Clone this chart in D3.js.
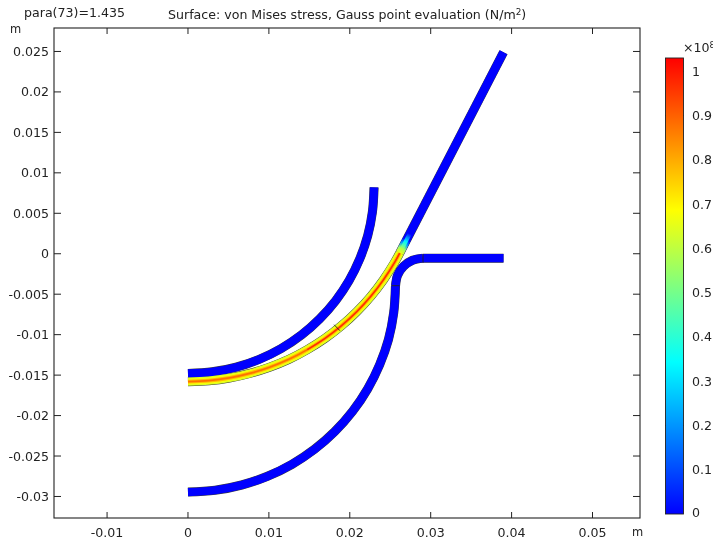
<!DOCTYPE html>
<html><head><meta charset="utf-8">
<script src="https://cdn.jsdelivr.net/npm/d3@7"></script>
<style>html,body{margin:0;padding:0;background:#fff}svg{display:block;filter:blur(.35px)}text{font-family:"DejaVu Sans";fill:#222}</style>
</head><body><svg id="c" width="713" height="539"></svg>
<script>
const xTicks=[-0.01,0,0.01,0.02,0.03,0.04,0.05];
const yTicks=[0.025,0.02,0.015,0.01,0.005,0,-0.005,-0.01,-0.015,-0.02,-0.025,-0.03];
const cbTicks=[0,0.1,0.2,0.3,0.4,0.5,0.6,0.7,0.8,0.9,1];
const cbStops=[0,0.3433,0.6867,1.03];
const cbColors=["#0000ff","#00ffff","#ffff00","#ff0000"];
const upperArm=[[0,-0.0148],[0.003,-0.0146],[0.00595,-0.01402],[0.0088,-0.01305],[0.0115,-0.01172],[0.01404,-0.01002],[0.01626,-0.00806],[0.01825,-0.00580],[0.01992,-0.0033],[0.02125,-0.00060],[0.02222,0.00225],[0.0228,0.00520],[0.023,0.0082]];
const middleArc=[[0,-0.0158],[0.00257,-0.01569],[0.00512,-0.01535],[0.00763,-0.01479],[0.01009,-0.01402],[0.01247,-0.01305],[0.01475,-0.01185],[0.01692,-0.01047],[0.01896,-0.0089],[0.02086,-0.00716],[0.0226,-0.00526],[0.02416,-0.00322],[0.02555,-0.00105],[0.02617,0.00008]];
const middleBar=[[0.02617,0.00008],[0.039,0.0249]];
const lowerArc=[[0,-0.02945],[0.00335,-0.02923],[0.00664,-0.02858],[0.00982,-0.02751],[0.01283,-0.02604],[0.01565,-0.02416],[0.01814,-0.02198],[0.02035,-0.01947],[0.02221,-0.0167],[0.02369,-0.01371],[0.02478,-0.0106],[0.02543,-0.00728],[0.02565,-0.00395]];
const lowerBend=[[0.02565,-0.00395],[0.02591,-0.00265],[0.02665,-0.00155],[0.02775,-0.00081],[0.02905,-0.00055]];
const lowerBar=[[0.02905,-0.00055],[0.039,-0.00055]];
const bandStress=[0.64,0.68,0.78,0.88];
const coreStress=0.97;
const fadeOuter=[0.66,0.55,0.22,0];
const fadeInner=[0.66,0.6,0.45,0.33,0.18,0];
const joints=[[0.01842,-0.00914,0.8],[0.02565,-0.00395,0],[0.02905,-0.00055,1.57]];

const svg=d3.select("#c");
const defs=svg.append("defs");
const L=54,R=640,T=28,B=518;
const x=d3.scaleLinear().domain([-0.01656,0.05587]).range([L,R]);
const y=d3.scaleLinear().domain([-0.03266,0.0279]).range([B,T]);
const line=d3.line().x(d=>x(d[0])).y(d=>y(d[1])).curve(d3.curveCatmullRom.alpha(0.5));
const seg=d3.line().x(d=>x(d[0])).y(d=>y(d[1]));
const W=8.3;
const color=d3.scaleLinear().domain(cbStops).range(cbColors);

const g=svg.append("g");
function strip(path,fn,col,w,cap){g.append("path").attr("d",fn(path)).attr("fill","none").attr("stroke",col).attr("stroke-width",w).attr("stroke-linecap",cap||"butt");}
[[upperArm,line],[middleArc,line],[middleBar,seg],[lowerArc,line],[lowerBend,line],[lowerBar,seg]].forEach(([p,f])=>strip(p,f,"#3a3a3a",W+0.8));
[[upperArm,line],[lowerArc,line],[lowerBend,line],[lowerBar,seg],[middleBar,seg]].forEach(([p,f])=>strip(p,f,"#0000ff",W));
// fade along the straight arm
const a=middleBar[0],b=middleBar[1];
const d0=Math.hypot(b[0]-a[0],b[1]-a[1]);
function fade(id,stress,len,w){
 const e=[a[0]+(b[0]-a[0])*len/d0,a[1]+(b[1]-a[1])*len/d0];
 const gr=defs.append("linearGradient").attr("id",id).attr("gradientUnits","userSpaceOnUse")
  .attr("x1",x(a[0])).attr("y1",y(a[1])).attr("x2",x(e[0])).attr("y2",y(e[1]));
 stress.forEach((s,i)=>gr.append("stop").attr("offset",i/(stress.length-1)).attr("stop-color",color(s)));
 strip([a,e],seg,`url(#${id})`,w);
}
fade("fadeO",fadeOuter,0.0019,W);
fade("fadeI",fadeInner,0.0027,W*0.5);
// stress bands of the loaded arm
bandStress.forEach((s,i)=>strip(middleArc,line,color(s),W*(1-i/bandStress.length)-(i?0.4:0)));
strip(middleArc.slice(6),line,color(coreStress),1.4);
// joints
g.selectAll("line.j").data(joints).join("line").attr("x1",d=>x(d[0])-Math.cos(d[2])*W/2).attr("y1",d=>y(d[1])-Math.sin(d[2])*W/2)
 .attr("x2",d=>x(d[0])+Math.cos(d[2])*W/2).attr("y2",d=>y(d[1])+Math.sin(d[2])*W/2).attr("stroke","#222").attr("stroke-width",0.9);

// frame + axes
svg.append("rect").attr("x",L).attr("y",T).attr("width",R-L).attr("height",B-T).attr("fill","none").attr("stroke","#222").attr("stroke-width",1.1);
const fmt=d=>d===0?"0":String(d);
const tk=svg.append("g").attr("stroke","#222").attr("stroke-width",1);
xTicks.forEach(t=>{tk.append("line").attr("x1",x(t)).attr("x2",x(t)).attr("y1",B).attr("y2",B-6);tk.append("line").attr("x1",x(t)).attr("x2",x(t)).attr("y1",T).attr("y2",T+6);});
yTicks.forEach(t=>{tk.append("line").attr("x1",L).attr("x2",L+7).attr("y1",y(t)).attr("y2",y(t));tk.append("line").attr("x1",R).attr("x2",R-7).attr("y1",y(t)).attr("y2",y(t));});
const FS=12.6;
svg.selectAll("text.x").data(xTicks).join("text").attr("x",d=>x(d)).attr("y",537).attr("text-anchor","middle").attr("font-size",FS).text(fmt);
svg.selectAll("text.y").data(yTicks).join("text").attr("x",L-5).attr("y",d=>y(d)+4.5).attr("text-anchor","end").attr("font-size",FS).text(fmt);
svg.append("text").attr("x",632).attr("y",536).attr("font-size",11.5).text("m");
svg.append("text").attr("x",10).attr("y",33).attr("font-size",11.5).text("m");
svg.append("text").attr("x",24).attr("y",16.5).attr("font-size",FS).text("para(73)=1.435");
const title=svg.append("text").attr("x",168).attr("y",19).attr("font-size",FS).text("Surface: von Mises stress, Gauss point evaluation (N/m");
title.append("tspan").attr("dy",-4).attr("font-size",8.8).text("2");
title.append("tspan").attr("dy",4).text(")");

// colour bar
const cy=d3.scaleLinear().domain([0,1.03]).range([514,58]);
const CL=665.5,CR=683.5;
const cg=defs.append("linearGradient").attr("id","cb").attr("x1",0).attr("x2",0).attr("y1",1).attr("y2",0);
cbStops.forEach((s,i)=>cg.append("stop").attr("offset",s/1.03).attr("stop-color",cbColors[i]));
svg.append("rect").attr("x",CL).attr("y",cy(1.03)).attr("width",CR-CL).attr("height",cy(0)-cy(1.03)).attr("fill","url(#cb)").attr("stroke","#222").attr("stroke-width",0.9);
cbTicks.forEach(t=>{ if(t===0) return;
 tk.append("line").attr("x1",CL).attr("x2",CL+3.5).attr("y1",cy(t)).attr("y2",cy(t));
 tk.append("line").attr("x1",CR-3.5).attr("x2",CR).attr("y1",cy(t)).attr("y2",cy(t));});
svg.selectAll("text.c").data(cbTicks).join("text").attr("x",692).attr("y",d=>d===0?517:cy(d)+4.5).attr("font-size",FS).text(fmt);
const ex=svg.append("text").attr("x",683).attr("y",52).attr("font-size",FS).text("×10");
ex.append("tspan").attr("dy",-4).attr("font-size",8.8).text("8");
</script></body></html>
